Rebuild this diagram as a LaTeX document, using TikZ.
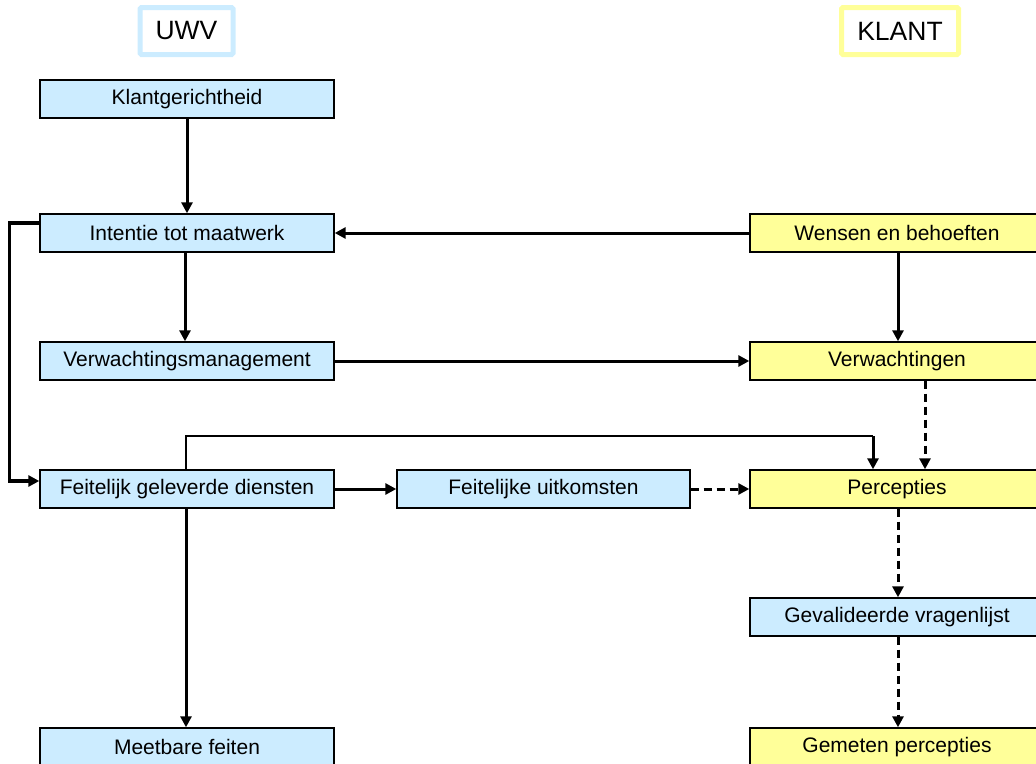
\documentclass[tikz,border=0pt]{standalone}
\usepackage{fontspec}
\setmainfont{Liberation Sans}
\usetikzlibrary{arrows.meta}
\definecolor{bl}{HTML}{CCECFF}
\definecolor{yl}{HTML}{FFFF99}
\tikzset{
  box/.style={draw=black, line width=1.4pt, minimum width=294pt, minimum height=38pt, inner sep=0pt, font=\fontsize{21}{24}\selectfont},
  bbox/.style={box, fill=bl},
  ybox/.style={box, fill=yl},
  head/.style={line width=5pt, rounded corners=1.5pt, minimum width=93pt, minimum height=47pt, inner sep=0pt, fill=white, font=\fontsize{26.5}{30}\selectfont},
  arr/.style={line width=3pt, -{Triangle[length=11pt,width=11pt]}},
  darr/.style={arr, dash pattern=on 8pt off 5pt},
  thinline/.style={line width=1.5pt},
}
\begin{document}
\begin{tikzpicture}[x=1pt,y=-1pt]
\useasboundingbox (0,0) rectangle (1036,763);
\clip (0,0) rectangle (1036,763);
\node[head, draw=bl] (uwv) at (186.5,31) {UWV};
\node[head, draw=yl, minimum width=117pt] (klant) at (900,31) {KLANT};

\node[bbox] (klg) at (187,99) {Klantgerichtheid};
\node[bbox] (int) at (187,233) {Intentie tot maatwerk};
\node[bbox] (vwm) at (187,361) {Verwachtingsmanagement};
\node[bbox] (fgd) at (187,489) {Feitelijk geleverde diensten};
\node[bbox, minimum width=293pt] (fu) at (543.5,489) {Feitelijke uitkomsten};
\node[bbox] (mf) at (187,747) {Meetbare feiten};

\node[ybox] (web) at (897,233) {Wensen en behoeften};
\node[ybox] (vw) at (897,361) {Verwachtingen};
\node[ybox] (per) at (897,489) {Percepties};
\node[bbox] (gv) at (897,617) {Gevalideerde vragenlijst};
\node[ybox] (gp) at (897,747) {Gemeten percepties};

\draw[arr] (klg.south) -- (int.north);
\draw[arr] ([xshift=-2pt]int.south) -- ([xshift=-2pt]vwm.north);
\draw[arr] (web.west) -- (int.east);
\draw[arr] ([xshift=1pt]web.south) -- ([xshift=1pt]vw.north);
\draw[arr] (vwm.east) -- (vw.west);
\draw[darr] ([xshift=28pt]vw.south) -- ([xshift=28pt]per.north);
\coordinate (tp) at (873,436);
\draw[thinline] ([xshift=-1pt]fgd.north) -- ([xshift=-1pt]fgd.north |- tp) -- (tp);
\draw[arr] (tp) -- (tp |- per.north);
\draw[line width=3.5pt, -{Triangle[length=11pt,width=11pt]}] ([yshift=10pt]int.west) -- ++(-30,0) |- ([yshift=8pt]fgd.west);
\draw[arr] (fgd.east) -- (fu.west);
\draw[darr] (fu.east) -- (per.west);
\draw[arr] ([xshift=-1pt]fgd.south) -- ([xshift=-1pt]mf.north);
\draw[darr] ([xshift=1pt]per.south) -- ([xshift=1pt]gv.north);
\draw[darr] ([xshift=1pt]gv.south) -- ([xshift=1pt]gp.north);
\end{tikzpicture}
\end{document}
